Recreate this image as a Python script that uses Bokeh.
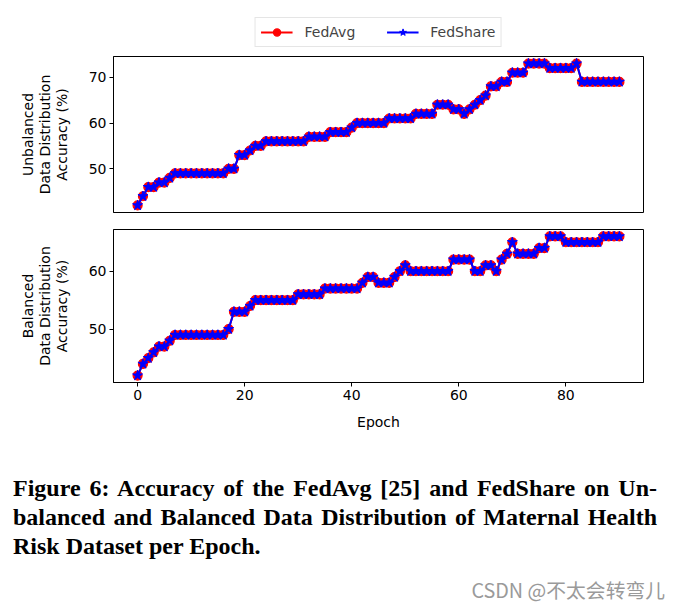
from bokeh.plotting import figure
from bokeh.models import Range1d, FixedTicker, Legend, LegendItem, Div
from bokeh.layouts import column
from bokeh.embed import file_html
from bokeh.resources import INLINE

# ---------------- data ----------------
epochs = list(range(91))

fedavg_unbalanced = [42, 44, 46, 46, 47, 47, 48,
                     49, 49, 49, 49, 49, 49, 49, 49, 49, 49,
                     50, 50, 53, 53, 54, 55, 55,
                     56, 56, 56, 56, 56, 56, 56, 56,
                     57, 57, 57, 57, 58, 58, 58, 58, 59,
                     60, 60, 60, 60, 60, 60,
                     61, 61, 61, 61, 61, 62, 62, 62, 62,
                     64, 64, 64, 63, 63, 62, 63, 64, 65, 66,
                     68, 68, 69, 69, 71, 71, 71,
                     73, 73, 73, 73, 72, 72, 72, 72, 72, 73,
                     69, 69, 69, 69, 69, 69, 69, 69]
fedshare_unbalanced = list(fedavg_unbalanced)

fedavg_balanced = [42, 44, 45, 46, 47, 47, 48,
                   49, 49, 49, 49, 49, 49, 49, 49, 49, 49,
                   50, 53, 53, 53, 54,
                   55, 55, 55, 55, 55, 55, 55, 55,
                   56, 56, 56, 56, 56,
                   57, 57, 57, 57, 57, 57, 57,
                   58, 59, 59, 58, 58, 58, 59, 60, 61,
                   60, 60, 60, 60, 60, 60, 60, 60,
                   62, 62, 62, 62, 60, 60, 61, 61, 60, 62, 63, 65,
                   63, 63, 63, 63, 64, 64, 66, 66, 66,
                   65, 65, 65, 65, 65, 65, 65,
                   66, 66, 66, 66]
fedshare_balanced = list(fedavg_balanced)

x_ticks = [0, 20, 40, 60, 80]
y_ticks_unbalanced = [50, 60, 70]
y_ticks_balanced = [50, 60]

series_names = ["FedAvg", "FedShare"]
caption_lines = [
    "Figure 6: Accuracy of the FedAvg [25] and FedShare on Un-",
    "balanced and Balanced Data Distribution of Maternal Health",
    "Risk Dataset per Epoch.",
]
watermark = "CSDN @不太会转弯儿"

# ---------------- style ----------------
FONT = "DejaVu Sans"
FS = "14px"
W = 679
LEFT = 113
RIGHT = 36


def style_axes(p):
    p.grid.visible = False
    p.outline_line_color = "black"
    p.outline_line_width = 1
    for ax in p.axis:
        ax.axis_line_color = "black"
        ax.major_tick_out = 4
        ax.major_tick_in = 0
        ax.minor_tick_out = 0
        ax.minor_tick_in = 0
        ax.major_label_text_font = FONT
        ax.major_label_text_font_size = FS
        ax.major_label_text_color = "black"
        ax.axis_label_text_font = FONT
        ax.axis_label_text_font_size = FS
        ax.axis_label_text_font_style = "normal"
        ax.axis_label_text_color = "black"
        ax.axis_label_text_line_height = 1.05
        ax.major_label_standoff = 3


def draw_series(p, y_avg, y_share):
    ra = p.line(epochs, y_avg, color="red", line_width=2)
    ram = p.scatter(epochs, y_avg, marker="circle", size=9, fill_color="red",
                    line_color="red", line_width=1.2)
    rs = p.line(epochs, y_share, color="blue", line_width=2)
    rsm = p.scatter(epochs, y_share, marker="star", size=10.5, fill_color="blue",
                    line_color="blue", line_width=1)
    return ra, ram, rs, rsm


# legend strip (series drawn out of view, used only as legend sources)
pl = figure(width=W, height=54, x_range=Range1d(-4.5, 94.5), y_range=Range1d(0, 1),
            min_border_left=LEFT, min_border_right=RIGHT, min_border_top=0,
            min_border_bottom=0, output_backend="svg", toolbar_location=None)
pl.axis.visible = False
pl.grid.visible = False
pl.outline_line_color = None
la, lam, ls, lsm = draw_series(pl, fedavg_unbalanced, fedshare_unbalanced)
legend = Legend(items=[LegendItem(label=series_names[0], renderers=[la, lam]),
                       LegendItem(label=series_names[1], renderers=[ls, lsm])],
                orientation="horizontal", location="top_center",
                padding=5, spacing=31, label_standoff=12, glyph_width=32,
                glyph_height=18, label_height=18, margin=17,
                label_text_font=FONT, label_text_font_size=FS,
                border_line_color="#cccccc", border_line_width=1,
                background_fill_color="white", background_fill_alpha=1)
pl.add_layout(legend, "center")

# top plot (unbalanced)
p1 = figure(width=W, height=166, x_range=Range1d(-4.5, 94.5),
            y_range=Range1d(40.45, 74.55), min_border_left=LEFT,
            min_border_right=RIGHT, min_border_top=2, min_border_bottom=8,
            output_backend="svg", toolbar_location=None)
draw_series(p1, fedavg_unbalanced, fedshare_unbalanced)
style_axes(p1)
p1.xaxis.visible = False
p1.yaxis.ticker = FixedTicker(ticks=y_ticks_unbalanced)
p1.yaxis.axis_label = "Unbalanced\nData Distribution\nAccuracy (%)"
p1.yaxis.axis_label_standoff = 16

# bottom plot (balanced)
p2 = figure(width=W, height=220, x_range=p1.x_range,
            y_range=Range1d(40.8, 67.2), min_border_left=LEFT,
            min_border_right=RIGHT, min_border_top=9, min_border_bottom=58,
            output_backend="svg", toolbar_location=None)
draw_series(p2, fedavg_balanced, fedshare_balanced)
style_axes(p2)
p2.xaxis.ticker = FixedTicker(ticks=x_ticks)
p2.yaxis.ticker = FixedTicker(ticks=y_ticks_balanced)
p2.xaxis.axis_label = "Epoch"
p2.xaxis.axis_label_standoff = 11
p2.yaxis.axis_label = "Balanced\nData Distribution\nAccuracy (%)"
p2.yaxis.axis_label_standoff = 16

# caption (justified, like the paper)
cap_html = (
    '<div style="position:relative;width:679px;height:169px;margin:0;padding:0;">'
    '<div style="position:absolute;left:13px;top:34px;width:644px;'
    'font-family:\'Liberation Serif\',serif;font-weight:bold;font-size:24px;'
    'line-height:29px;color:#000;">'
    f'<div style="text-align:justify;text-align-last:justify;">{caption_lines[0]}</div>'
    f'<div style="text-align:justify;text-align-last:justify;">{caption_lines[1]}</div>'
    f'<div style="text-align:left;">{caption_lines[2]}</div>'
    '</div>'
    '<div style="position:absolute;right:14px;top:138px;'
    'font-family:\'Noto Sans CJK SC\',sans-serif;font-size:19.8px;line-height:24px;'
    f'color:#9a9a9a;white-space:nowrap;">{watermark}</div>'
    '</div>'
)
cap = Div(text=cap_html, width=W, height=169, margin=0)

layout = column(pl, p1, p2, cap, spacing=0)
open("out.html", "w").write(file_html(layout, INLINE))
